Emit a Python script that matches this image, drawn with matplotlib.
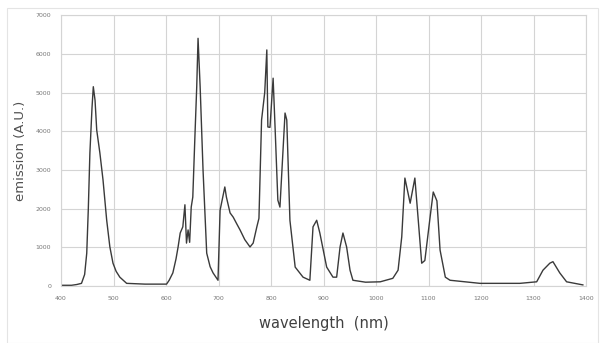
import matplotlib
matplotlib.use("Agg")
import matplotlib.pyplot as plt
from matplotlib.patches import Rectangle

# spectrum
wavelength = [400, 420, 430, 439, 445, 449, 452, 455, 459, 461.5, 464.8, 468, 474, 480, 487,
              493, 499, 505, 512, 525, 560, 601, 606, 613, 619, 623, 627, 632, 636, 639, 642,
              645, 648, 651, 655, 658.5, 661, 665, 670.5, 677.5, 684, 689.6, 699, 703, 712,
              715, 722, 728, 735, 741, 750, 760, 766, 773, 777, 782, 788, 792, 794, 798, 804,
              808, 813, 817, 826.7, 830, 836, 846, 861, 874, 880, 887, 893, 906, 918, 925,
              931.5, 937, 944, 950.5, 956, 980, 1008, 1032, 1042, 1049, 1055, 1065, 1074,
              1080, 1087, 1093, 1103, 1109, 1116, 1122, 1132, 1141, 1198, 1274, 1306, 1318,
              1331, 1337, 1350, 1363, 1394]
emission = [20, 20, 40, 70, 300, 850, 2000, 3440, 4600, 5150, 4800, 4030, 3440, 2740, 1700,
            1015, 590, 380, 230, 70, 50, 50, 150, 340, 700, 1010, 1370, 1530, 2100, 1110, 1450,
            1130, 2040, 2300, 3850, 5150, 6400, 5150, 3000, 850, 500, 340, 150, 1960, 2560,
            2300, 1890, 1780, 1600, 1450, 1200, 1010, 1110, 1530, 1750, 4290, 5000, 6100, 4110,
            4100, 5370, 4000, 2220, 2040, 4470, 4290, 1700, 490, 230, 150, 1530, 1700, 1370,
            490, 230, 230, 1010, 1370, 1010, 410, 150, 100, 110, 200, 410, 1270, 2790, 2140,
            2790, 1780, 590, 660, 1780, 2430, 2200, 930, 230, 150, 70, 70, 110, 410, 590, 630,
            340, 110, 30]

xticks = list(range(400, 1401, 100))
yticks = list(range(0, 7001, 1000))

fig = plt.figure(figsize=(6.0, 3.43), dpi=100)
fig.patches.append(Rectangle((0.012, 0.0), 0.985, 0.977, transform=fig.transFigure,
                             fill=False, edgecolor="#e4e4e4", linewidth=0.8))
ax = fig.add_axes([0.1017, 0.166, 0.875, 0.79])

ax.plot(wavelength, emission, color="#3a3a3a", linewidth=1.0)

ax.set_xlim(400, 1400)
ax.set_ylim(0, 7000)
ax.set_xticks(xticks)
ax.set_yticks(yticks)
ax.tick_params(labelsize=4.5, colors="#777777", length=0, pad=7)
ax.grid(True, color="#d4d4d4", linewidth=0.8)
ax.set_axisbelow(True)
for sp in ax.spines.values():
    sp.set_color("#d4d4d4")
    sp.set_linewidth(0.8)

ax.set_xlabel("wavelength  (nm)", fontsize=10.5, color="#404040", labelpad=11)
ax.set_ylabel("emission (A.U.)", fontsize=9.5, color="#505050", labelpad=6)

fig.savefig("out.png", dpi=100)
